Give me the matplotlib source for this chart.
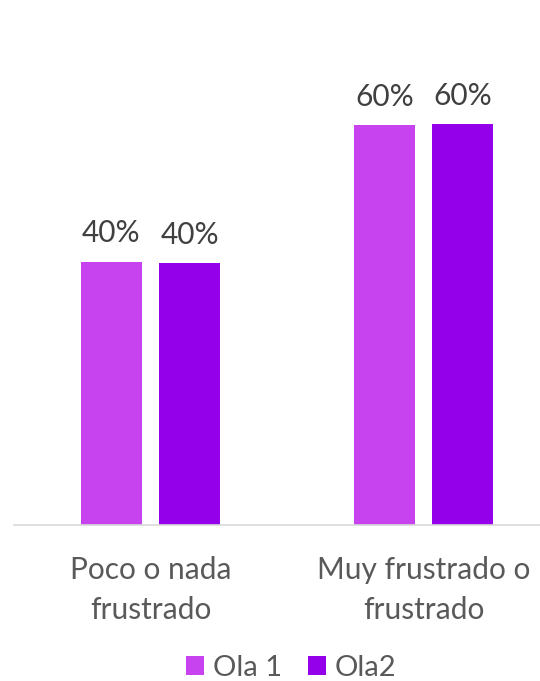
import numpy as np
import matplotlib
matplotlib.use("Agg")
import matplotlib.pyplot as plt

# Data
categories = ["Poco o nada\nfrustrado", "Muy frustrado o\nfrustrado"]
series_names = ["Ola 1", "Ola2"]
ola1 = [0.397, 0.603]
ola2 = [0.395, 0.605]
colors = ["#C843F0", "#9500EA"]

plt.rcParams['font.family'] = ['Lato', 'DejaVu Sans']

fig = plt.figure(figsize=(5.4, 6.81), dpi=100)
ax = fig.add_axes([14 / 540, 1 - 525 / 681, 546 / 540, 525 / 681])

x = np.arange(len(categories))
width = 0.2234
offset = 0.1429

for i, (vals, name) in enumerate(zip([ola1, ola2], series_names)):
    pos = x + (i * 2 - 1) * offset
    bars = ax.bar(pos, vals, width, color=colors[i], label=name, zorder=2)
    for b, v in zip(bars, vals):
        ax.annotate(f"{v:.0%}", (b.get_x() + b.get_width() / 2, v),
                    xytext=(0, 14), textcoords="offset points",
                    ha="center", va="baseline", fontsize=21.5, color="#404040")

ax.set_xlim(-0.5, len(categories) - 0.5)
ax.set_ylim(0, 0.792)
ax.set_yticks([])
ax.set_xticks(x)
ax.set_xticklabels(categories, fontsize=21.5, color="#595959", linespacing=1.55)
ax.tick_params(axis="x", length=0, pad=22)

for side in ["top", "right", "left"]:
    ax.spines[side].set_visible(False)
ax.spines["bottom"].set_color("#D9D9D9")
ax.spines["bottom"].set_linewidth(1.2)

fig.legend(loc="center", bbox_to_anchor=(291 / 540, 1 - 668 / 681),
           ncol=2, frameon=False, fontsize=21, labelcolor="#595959",
           handlelength=0.62, handleheight=0.62, handletextpad=0.3,
           columnspacing=0.9, borderaxespad=0, borderpad=0)

fig.savefig("out.png", dpi=100)
